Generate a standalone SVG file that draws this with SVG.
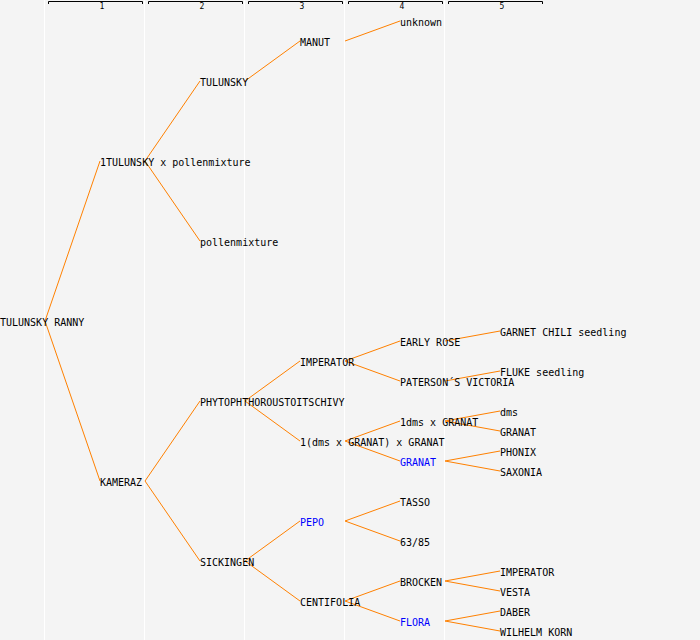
<svg xmlns="http://www.w3.org/2000/svg" width="700" height="640" viewBox="0 0 700 640">
<style>
.t{font-family:"DejaVu Sans Mono","Liberation Mono",monospace;font-size:10px;fill:#000}
.b{fill:#0000ff}
.h{font-family:"DejaVu Sans Mono","Liberation Mono",monospace;font-size:8px;fill:#000;text-anchor:middle}
.c line{stroke:#ff8000;stroke-width:1;fill:none}
.g line{stroke:#ffffff;stroke-width:1}
.k path{stroke:#000;stroke-width:1;fill:none}
</style>
<rect width="700" height="640" fill="#f4f4f4"/>
<g class="g">
<line x1="44.5" y1="0" x2="44.5" y2="640"/>
<line x1="144.5" y1="0" x2="144.5" y2="640"/>
<line x1="244.5" y1="0" x2="244.5" y2="640"/>
<line x1="344.5" y1="0" x2="344.5" y2="640"/>
<line x1="444.5" y1="0" x2="444.5" y2="640"/>
</g>
<g id="headers" class="k">
<path d="M48.5,4 V1.5 H142.5 V4"/>
<path d="M148.5,4 V1.5 H242.5 V4"/>
<path d="M248.5,4 V1.5 H342.5 V4"/>
<path d="M348.5,4 V1.5 H442.5 V4"/>
<path d="M448.5,4 V1.5 H542.5 V4"/>
<text class="h" x="102" y="9">1</text>
<text class="h" x="202" y="9">2</text>
<text class="h" x="302" y="9">3</text>
<text class="h" x="402" y="9">4</text>
<text class="h" x="502" y="9">5</text>
</g>
<g id="connectors" class="c">
<line x1="45" y1="321" x2="100" y2="161"/>
<line x1="45" y1="321" x2="100" y2="481"/>
<line x1="145" y1="161" x2="200" y2="81"/>
<line x1="145" y1="161" x2="200" y2="241"/>
<line x1="145" y1="481" x2="200" y2="401"/>
<line x1="145" y1="481" x2="200" y2="561"/>
<line x1="245" y1="81" x2="300" y2="41"/>
<line x1="245" y1="401" x2="300" y2="361"/>
<line x1="245" y1="401" x2="300" y2="441"/>
<line x1="245" y1="561" x2="300" y2="521"/>
<line x1="245" y1="561" x2="300" y2="601"/>
<line x1="345" y1="41" x2="400" y2="21"/>
<line x1="345" y1="361" x2="400" y2="341"/>
<line x1="345" y1="361" x2="400" y2="381"/>
<line x1="345" y1="441" x2="400" y2="421"/>
<line x1="345" y1="441" x2="400" y2="461"/>
<line x1="345" y1="521" x2="400" y2="501"/>
<line x1="345" y1="521" x2="400" y2="541"/>
<line x1="345" y1="601" x2="400" y2="581"/>
<line x1="345" y1="601" x2="400" y2="621"/>
<line x1="445" y1="341" x2="500" y2="331"/>
<line x1="445" y1="381" x2="500" y2="371"/>
<line x1="445" y1="421" x2="500" y2="411"/>
<line x1="445" y1="421" x2="500" y2="431"/>
<line x1="445" y1="461" x2="500" y2="451"/>
<line x1="445" y1="461" x2="500" y2="471"/>
<line x1="445" y1="581" x2="500" y2="571"/>
<line x1="445" y1="581" x2="500" y2="591"/>
<line x1="445" y1="621" x2="500" y2="611"/>
<line x1="445" y1="621" x2="500" y2="631"/>
</g>
<g id="n0"><text class="t" x="0" y="326">TULUNSKY RANNY</text></g>
<g id="n1"><text class="t" x="100" y="166">1TULUNSKY x pollenmixture</text></g>
<g id="n2"><text class="t" x="100" y="486">KAMERAZ</text></g>
<g id="n3"><text class="t" x="200" y="86">TULUNSKY</text></g>
<g id="n4"><text class="t" x="200" y="246">pollenmixture</text></g>
<g id="n5"><text class="t" x="200" y="406">PHYTOPHTHOROUSTOITSCHIVY</text></g>
<g id="n6"><text class="t" x="200" y="566">SICKINGEN</text></g>
<g id="n7"><text class="t" x="300" y="46">MANUT</text></g>
<g id="n8"><text class="t" x="300" y="366">IMPERATOR</text></g>
<g id="n9"><text class="t" x="300" y="446">1(dms x GRANAT) x GRANAT</text></g>
<g id="n10"><text class="t b" x="300" y="526">PEPO</text></g>
<g id="n11"><text class="t" x="300" y="606">CENTIFOLIA</text></g>
<g id="n12"><text class="t" x="400" y="26">unknown</text></g>
<g id="n13"><text class="t" x="400" y="346">EARLY ROSE</text></g>
<g id="n14"><text class="t" x="400" y="386">PATERSON´S VICTORIA</text></g>
<g id="n15"><text class="t" x="400" y="426">1dms x GRANAT</text></g>
<g id="n16"><text class="t b" x="400" y="466">GRANAT</text></g>
<g id="n17"><text class="t" x="400" y="506">TASSO</text></g>
<g id="n18"><text class="t" x="400" y="546">63/85</text></g>
<g id="n19"><text class="t" x="400" y="586">BROCKEN</text></g>
<g id="n20"><text class="t b" x="400" y="626">FLORA</text></g>
<g id="n21"><text class="t" x="500" y="336">GARNET CHILI seedling</text></g>
<g id="n22"><text class="t" x="500" y="376">FLUKE seedling</text></g>
<g id="n23"><text class="t" x="500" y="416">dms</text></g>
<g id="n24"><text class="t" x="500" y="436">GRANAT</text></g>
<g id="n25"><text class="t" x="500" y="456">PHONIX</text></g>
<g id="n26"><text class="t" x="500" y="476">SAXONIA</text></g>
<g id="n27"><text class="t" x="500" y="576">IMPERATOR</text></g>
<g id="n28"><text class="t" x="500" y="596">VESTA</text></g>
<g id="n29"><text class="t" x="500" y="616">DABER</text></g>
<g id="n30"><text class="t" x="500" y="636">WILHELM KORN</text></g>
</svg>
